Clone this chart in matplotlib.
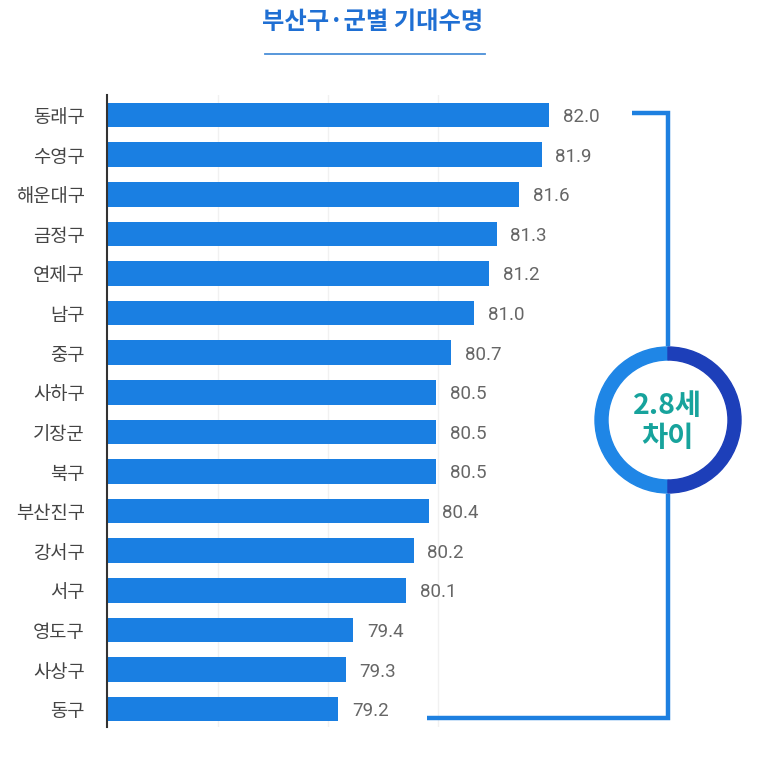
import matplotlib.pyplot as plt
from matplotlib.patches import Wedge, Circle

plt.rcParams['font.family'] = ['Noto Sans CJK KR', 'DejaVu Sans']

districts = ['동래구', '수영구', '해운대구', '금정구', '연제구', '남구', '중구', '사하구',
             '기장군', '북구', '부산진구', '강서구', '서구', '영도구', '사상구', '동구']
life_exp = [82.0, 81.9, 81.6, 81.3, 81.2, 81.0, 80.7, 80.5,
            80.5, 80.5, 80.4, 80.2, 80.1, 79.4, 79.3, 79.2]
gap_text = '2.8세\n차이'
title = '부산구·군별 기대수명'

W, H = 759, 769
fig = plt.figure(figsize=(W / 100, H / 100), dpi=100)
fig.patch.set_facecolor('white')

# main bar axes (pixel box: x 107..759, y 95..727)
ax = fig.add_axes([107 / W, 1 - 727 / H, (W - 107) / W, (727 - 95) / H])
ypos = list(range(len(districts)))
ax.barh(ypos, life_exp, height=0.62, color='#1a7fe2', zorder=2)
ax.set_xlim(76.13, 76.13 + (W - 107) / 75.36)
ax.set_ylim(15.45, -0.505)

ax.set_yticks(ypos)
ax.set_yticklabels(districts, fontsize=13.5, color='#444444')
ax.tick_params(axis='y', length=0, pad=16)
ax.set_xticks([77.6, 79.06, 80.52])
ax.tick_params(axis='x', length=0, labelbottom=False)
ax.grid(axis='x', color='#f1f1f1', lw=1, zorder=0)
for s in ['top', 'right', 'bottom']:
    ax.spines[s].set_visible(False)
ax.spines['left'].set_color('#333333')
ax.spines['left'].set_linewidth(1.5)
ax.set_facecolor('none')

for y, v in zip(ypos, life_exp):
    ax.text(v + 0.18, y + 0.05, f'{v:.1f}', va='center', ha='left', fontsize=13.5,
            color='#666666', family=['Roboto', 'DejaVu Sans'])

# overlay for decorations in pixel coordinates
ov = fig.add_axes([0, 0, 1, 1])
ov.set_xlim(0, W)
ov.set_ylim(H, 0)
ov.axis('off')
ov.patch.set_alpha(0)

fig.text(373 / W, 1 - 22 / H, title, ha='center', va='center', fontsize=17.5,
         fontweight='bold', color='#1f6fd3')
ov.plot([265, 485], [54, 54], color='#4a8fd8', lw=1.3)

# bracket
ov.plot([632, 668, 668, 427], [113, 113, 718, 718], color='#1e80e0', lw=3.2,
        solid_joinstyle='miter', solid_capstyle='butt')

cx, cy, r = 668, 420, 73
ov.add_patch(Circle((cx, cy), r, color='white', zorder=3))
ov.add_patch(Wedge((cx, cy), r, 90, 270, width=13, color='#1f86e6', zorder=4))
ov.add_patch(Wedge((cx, cy), r, -90, 90, width=13, color='#1d3fb9', zorder=4))
ov.text(cx, cy + 2, gap_text, ha='center', va='center', fontsize=20.5,
        fontweight='bold', color='#17a39c', linespacing=1.2, zorder=5)

fig.savefig('out.png', dpi=100, facecolor='white')
